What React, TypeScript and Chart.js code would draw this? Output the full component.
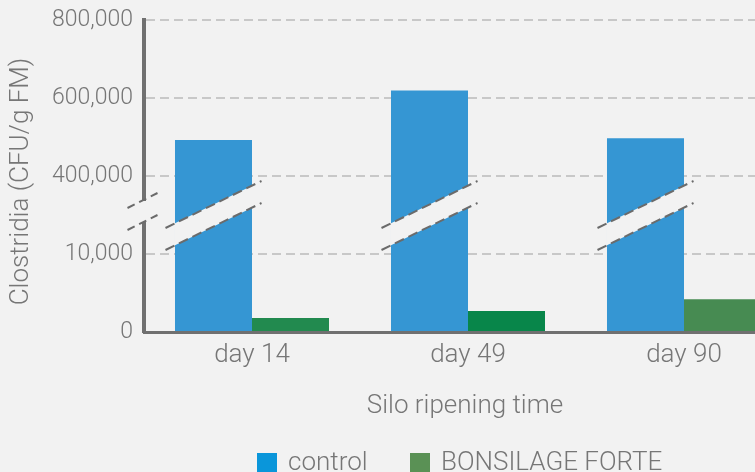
import React, { useEffect, useRef } from 'react';
import { Chart, LinearScale, registerables } from 'chart.js';

const categories = ['day 14', 'day 49', 'day 90'];
const controlValues = [492000, 619000, 497000];
const forteValues = [1800, 2700, 4200];
const yTickValues = [0, 10000, 400000, 600000, 800000];
const seriesNames = ['control', 'BONSILAGE FORTE'];
const controlColor = '#3596d3';
const forteColors = ['#228a4f', '#08864a', '#478b52'];
const legendColors = ['#0a96da', '#5a9155'];
const yTitle = 'Clostridia (CFU/g FM)';
const xTitle = 'Silo ripening time';

const BG = '#f2f2f2';
const TEXT = '#767676';
const AXIS = '#707070';
const GRID = '#c8c8c8';
const BREAK = '#6b6b6b';
const FAMILY = 'Roboto, "Open Sans", sans-serif';

function valueToDecimal(v: number): number {
  const n = yTickValues.length;
  if (v <= yTickValues[0]) return 0;
  for (let i = 0; i < n - 1; i++) {
    const a = yTickValues[i];
    const b = yTickValues[i + 1];
    if (v <= b) return (i + (v - a) / (b - a)) / (n - 1);
  }
  const a = yTickValues[n - 2];
  const b = yTickValues[n - 1];
  return (n - 1 + (v - b) / (b - a)) / (n - 1);
}

function decimalToValue(d: number): number {
  const n = yTickValues.length;
  const pos = d * (n - 1);
  const i = Math.max(0, Math.min(n - 2, Math.floor(pos)));
  const a = yTickValues[i];
  const b = yTickValues[i + 1];
  return a + (pos - i) * (b - a);
}

class BrokenScale extends LinearScale {
  static id = 'broken';
  static defaults = LinearScale.defaults;
  buildTicks() {
    return yTickValues.map((value) => ({ value }));
  }
  getPixelForValue(value: number) {
    return this.getPixelForDecimal(valueToDecimal(value));
  }
  getValueForPixel(pixel: number) {
    return decimalToValue(this.getDecimalForPixel(pixel));
  }
}

Chart.register(...registerables, BrokenScale as any);

const decorPlugin = {
  id: 'decor',
  beforeDraw(chart: any) {
    const ctx = chart.ctx;
    ctx.save();
    ctx.fillStyle = BG;
    ctx.fillRect(0, 0, chart.width, chart.height);
    ctx.restore();
  },
  afterDatasetsDraw(chart: any) {
    const ctx = chart.ctx;
    const y = chart.scales.y;
    const yMid = (y.getPixelForValue(yTickValues[1]) + y.getPixelForValue(yTickValues[2])) / 2;
    const s = 0.49;
    const half = 11;
    const meta = chart.getDatasetMeta(0);
    ctx.save();
    meta.data.forEach((bar: any) => {
      const { x, width } = bar.getProps(['x', 'width'], true);
      const l = x - width / 2;
      const r = x + width / 2;
      const f = (xx: number) => yMid + 0.5 - s * (xx - x);
      ctx.fillStyle = BG;
      ctx.beginPath();
      ctx.moveTo(l, f(l) - half);
      ctx.lineTo(r, f(r) - half);
      ctx.lineTo(r, f(r) + half);
      ctx.lineTo(l, f(l) + half);
      ctx.closePath();
      ctx.fill();
      ctx.strokeStyle = BREAK;
      ctx.lineWidth = 2;
      ctx.setLineDash([10, 5]);
      for (const d of [-half, half]) {
        ctx.beginPath();
        ctx.moveTo(x - 48, f(x - 48) + d);
        ctx.lineTo(x + 48, f(x + 48) + d);
        ctx.stroke();
      }
    });
    ctx.restore();
  },
  afterDraw(chart: any) {
    const ctx = chart.ctx;
    const y = chart.scales.y;
    const yMid = (y.getPixelForValue(yTickValues[1]) + y.getPixelForValue(yTickValues[2])) / 2;
    const ax = chart.chartArea.left - 1.5;
    const yb = yMid - 3.5;
    ctx.save();
    // axis break
    ctx.fillStyle = BG;
    ctx.fillRect(ax - 4, yb - 10.5, 8, 21);
    ctx.strokeStyle = BREAK;
    ctx.lineWidth = 2;
    ctx.setLineDash([8, 5]);
    for (const d of [-11, 11]) {
      ctx.beginPath();
      ctx.moveTo(ax - 15, yb + d + 7.5);
      ctx.lineTo(ax + 15, yb + d - 7.5);
      ctx.stroke();
    }
    ctx.setLineDash([]);

    // y title
    ctx.fillStyle = TEXT;
    ctx.font = `300 26px ${FAMILY}`;
    ctx.save();
    ctx.translate(21, 181.5);
    ctx.rotate(-Math.PI / 2);
    ctx.textAlign = 'center';
    ctx.textBaseline = 'middle';
    ctx.fillText(yTitle, 0, 0);
    ctx.restore();

    // x title
    ctx.textAlign = 'center';
    ctx.textBaseline = 'alphabetic';
    ctx.fillText(xTitle, (chart.chartArea.left + chart.chartArea.right) / 2 - 3, 413);

    // legend
    const legendX = [257, 410];
    ctx.textAlign = 'left';
    seriesNames.forEach((name, i) => {
      ctx.fillStyle = legendColors[i];
      ctx.fillRect(legendX[i], 453, 20, 20);
      ctx.fillStyle = TEXT;
      ctx.fillText(name, legendX[i] + 31, 470);
    });
    ctx.restore();
  },
};

export default function App() {
  const ref = useRef<HTMLCanvasElement | null>(null);
  useEffect(() => {
    if (!ref.current) return;
    const chart = new Chart(ref.current, {
      type: 'bar',
      data: {
        labels: categories,
        datasets: [
          {
            label: seriesNames[0],
            data: controlValues,
            backgroundColor: controlColor,
            borderWidth: 0,
            categoryPercentage: 0.713,
            barPercentage: 1,
          },
          {
            label: seriesNames[1],
            data: forteValues,
            backgroundColor: forteColors,
            borderWidth: 0,
            categoryPercentage: 0.713,
            barPercentage: 1,
          },
        ],
      },
      options: {
        responsive: false,
        animation: false,
        devicePixelRatio: 1,
        layout: { padding: { top: 20, right: 8, left: 0, bottom: 0 } },
        plugins: {
          legend: { display: false },
          tooltip: { enabled: false },
          title: { display: false },
        },
        scales: {
          x: {
            type: 'category',
            z: 1,
            grid: { display: false, drawTicks: false },
            border: { display: true, color: AXIS, width: 3 },
            ticks: {
              color: TEXT,
              font: { family: FAMILY, size: 26, weight: '300' as any },
              padding: 8,
              maxRotation: 0,
            },
            afterFit: (scale: any) => {
              scale.height = 140;
              scale.paddingLeft = 0;
              scale.paddingRight = 0;
            },
          },
          y: {
            type: 'broken' as any,
            min: 0,
            max: 800000,
            grid: {
              drawTicks: false,
              color: (c: any) => (c.tick && c.tick.value === 0 ? 'rgba(0,0,0,0)' : GRID),
              lineWidth: 2,
            },
            border: { display: true, color: AXIS, width: 4, dash: [9, 5] as any },
            ticks: {
              color: TEXT,
              font: { family: FAMILY, size: 23, weight: '300' as any },
              padding: 11,
              callback: (v: any) => Number(v).toLocaleString('en-US'),
            },
            afterFit: (scale: any) => {
              scale.width = 144;
              scale.paddingTop = 0;
              scale.paddingBottom = 0;
            },
          },
        },
      } as any,
      plugins: [decorPlugin],
    });
    return () => chart.destroy();
  }, []);

  return (
    <div
      style={{
        position: 'fixed',
        left: 0,
        top: 0,
        width: 755,
        height: 472,
        overflow: 'hidden',
        background: BG,
      }}
    >
      <canvas ref={ref} width={800} height={472} style={{ width: 800, height: 472, display: 'block' }} />
    </div>
  );
}
